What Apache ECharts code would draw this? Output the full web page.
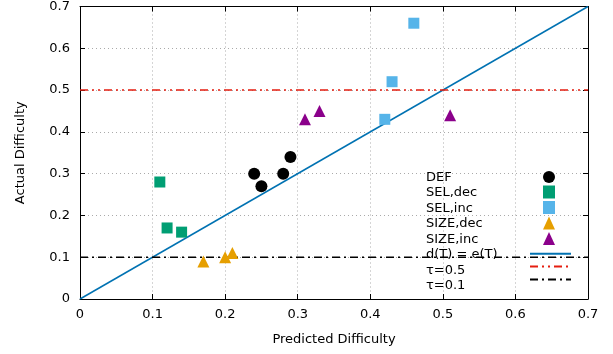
<!DOCTYPE html>
<html><head><meta charset="utf-8">
<script src="https://cdn.jsdelivr.net/npm/echarts@6/dist/echarts.min.js"></script>
<style>html,body{margin:0;padding:0;background:#fff}#c{width:613px;height:354px}</style>
</head><body><div id="c"></div>
<script>
const ticks = [0, 0.1, 0.2, 0.3, 0.4, 0.5, 0.6, 0.7];
const DEF = [[0.24, 0.30], [0.25, 0.27], [0.28, 0.30], [0.29, 0.34]];
const SEL_dec = [[0.11, 0.28], [0.12, 0.17], [0.14, 0.16]];
const SEL_inc = [[0.42, 0.43], [0.43, 0.52], [0.46, 0.66]];
const SIZE_dec = [[0.17, 0.09], [0.20, 0.10], [0.21, 0.11]];
const SIZE_inc = [[0.31, 0.43], [0.33, 0.45], [0.51, 0.44]];
const diagLine = [[0, 0], [0.7, 0.7]];
const tau05 = [[0, 0.5], [0.7, 0.5]];
const tau01 = [[0, 0.1], [0.7, 0.1]];
const scatterNames = ['DEF', 'SEL,dec', 'SEL,inc', 'SIZE,dec', 'SIZE,inc'];
const lineNames = ['d(T) = e(T)', 'τ=0.5', 'τ=0.1'];

const font = 'DejaVu Sans';
const chart = echarts.init(document.getElementById('c'));
const axisCommon = {
  type: 'value', min: 0, max: 0.7, interval: 0.1,
  axisLine: { show: true, onZero: false, lineStyle: { color: '#000', width: 1 } },
  axisTick: { show: true, inside: true, length: 5, lineStyle: { color: '#000' } },
};
const scat = (name, data, symbol, color, size) => ({
  name, type: 'scatter', data, symbol, symbolSize: size,
  itemStyle: { color, opacity: 1 }, z: 5
});
const line = (name, data, color, type) => ({
  name, type: 'line', data, symbol: 'none', showSymbol: false,
  lineStyle: { color, width: 1.5, type }, itemStyle: { color }, z: 3,
  silent: true, animation: false
});
const rowH = 13, gap = 2.5, top0 = 171;
const lblFmt = v => String(+v.toFixed(1));
chart.setOption({
  animation: false,
  textStyle: { fontFamily: font },
  grid: { left: 80, right: 25, top: 4, bottom: 55, containLabel: false },
  xAxis: [
    Object.assign({}, axisCommon, {
      position: 'bottom', name: 'Predicted Difficulty', nameLocation: 'middle', nameGap: 34,
      nameTextStyle: { fontFamily: font, fontSize: 13, color: '#000' },
      axisLabel: { fontFamily: font, fontSize: 13, color: '#000', margin: 9, formatter: lblFmt },
      splitLine: { show: true, lineStyle: { color: '#aaa', type: [1, 3], width: 1 } }
    }),
    Object.assign({}, axisCommon, { position: 'top', axisLabel: { show: false }, splitLine: { show: false } })
  ],
  yAxis: [
    Object.assign({}, axisCommon, {
      position: 'left', name: 'Actual Difficulty', nameLocation: 'middle', nameGap: 53,
      nameTextStyle: { fontFamily: font, fontSize: 13, color: '#000' },
      axisLabel: { fontFamily: font, fontSize: 13, color: '#000', margin: 10, formatter: lblFmt },
      splitLine: { show: true, lineStyle: { color: '#aaa', type: [1, 3], width: 1 } }
    }),
    Object.assign({}, axisCommon, { position: 'right', axisLabel: { show: false }, splitLine: { show: false } })
  ],
  legend: [
    {
      orient: 'vertical', left: 420, top: top0, padding: 0, icon: 'none',
      itemWidth: 1, itemHeight: rowH, itemGap: gap,
      textStyle: { fontFamily: font, fontSize: 13, lineHeight: 13, color: '#000' },
      data: scatterNames.concat(lineNames)
    },
    {
      orient: 'vertical', left: 543, top: top0, padding: 0,
      itemWidth: 12, itemHeight: rowH, itemGap: gap, formatter: () => '',
      textStyle: { fontSize: 13, lineHeight: 13 },
      data: scatterNames
    },
    {
      orient: 'vertical', left: 529, top: top0 + 5 * (rowH + gap), padding: 0,
      itemWidth: 41, itemHeight: rowH, itemGap: gap, formatter: () => '',
      textStyle: { fontSize: 13, lineHeight: 13 },
      data: lineNames.map(n => ({ name: n, itemStyle: { opacity: 0 } }))
    }
  ],
  series: [
    scat('DEF', DEF, 'circle', '#000000', 12),
    scat('SEL,dec', SEL_dec, 'rect', '#009e73', 11),
    scat('SEL,inc', SEL_inc, 'rect', '#56b4e9', 11),
    scat('SIZE,dec', SIZE_dec, 'triangle', '#e69f00', 12),
    scat('SIZE,inc', SIZE_inc, 'triangle', '#8b008b', 12),
    line('d(T) = e(T)', diagLine, '#0072b2', 'solid'),
    line('τ=0.5', tau05, '#e51e10', [8, 4, 2, 4, 2, 4]),
    line('τ=0.1', tau01, '#000000', [8, 4, 2, 4])
  ]
});
</script></body></html>
